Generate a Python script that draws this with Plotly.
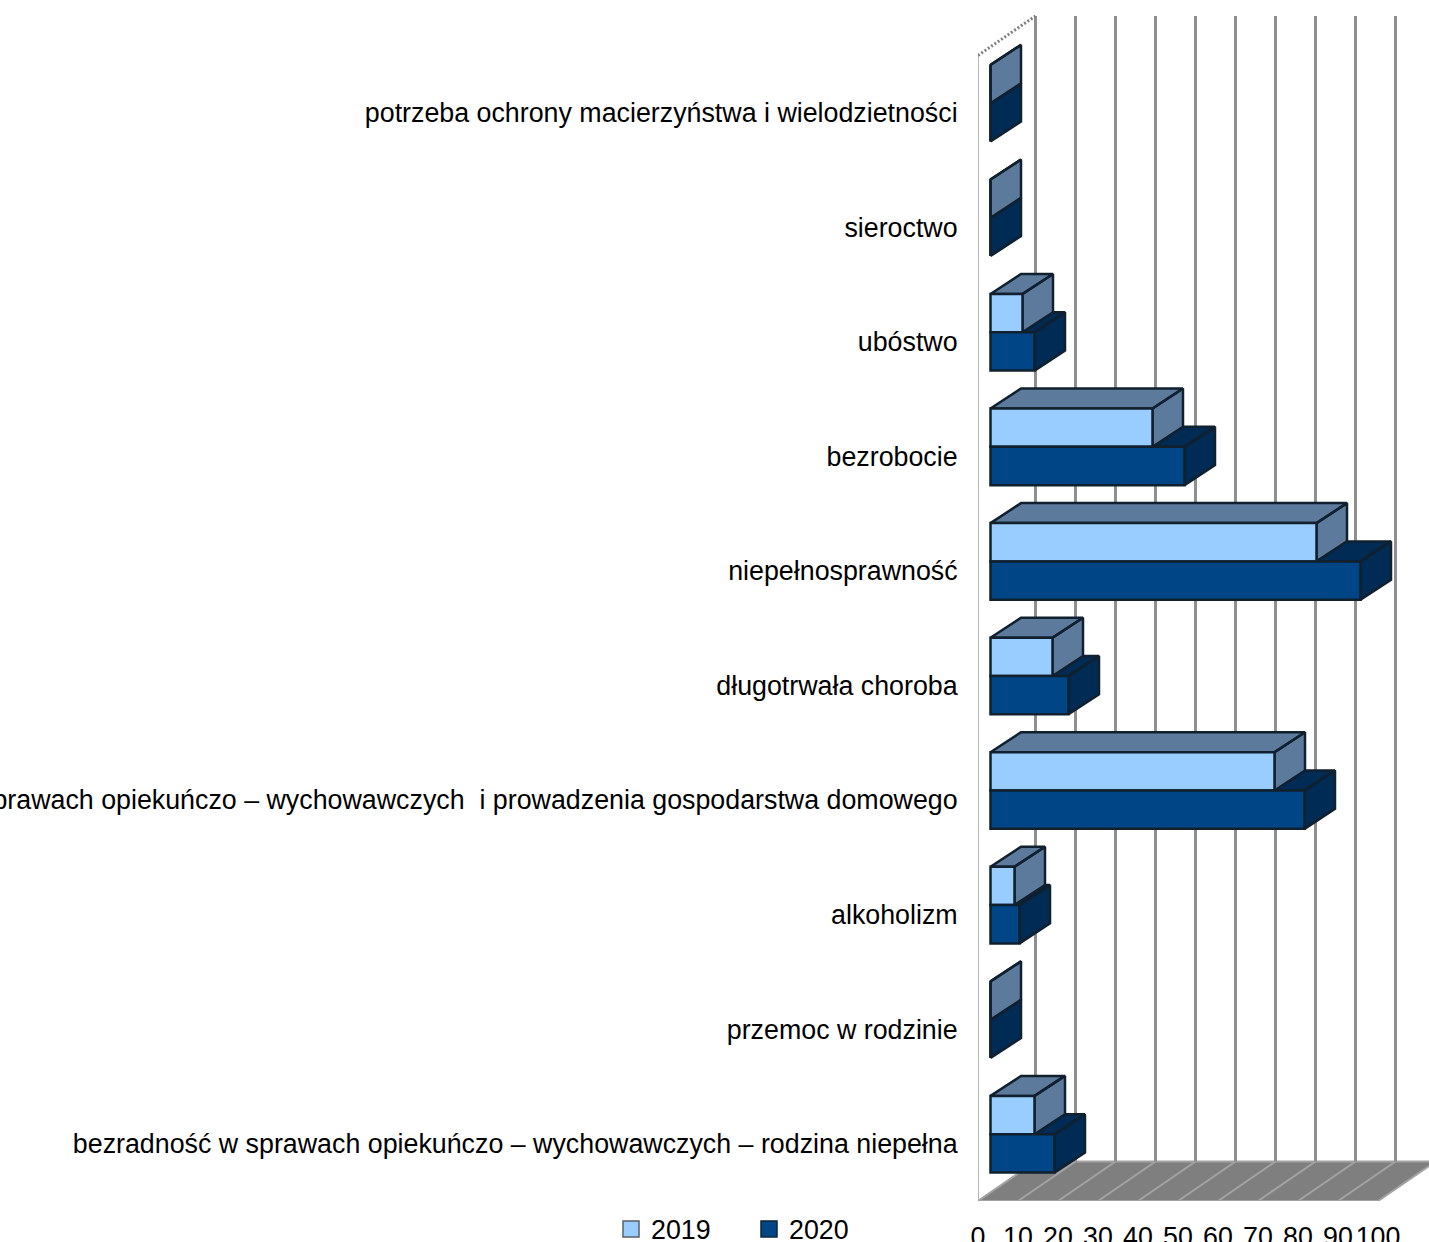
import plotly.graph_objects as go

categories = [
    "bezradność w sprawach opiekuńczo – wychowawczych – rodzina niepełna",
    "przemoc w rodzinie",
    "alkoholizm",
    "bezradność w sprawach opiekuńczo – wychowawczych\u00a0\u00a0i prowadzenia gospodarstwa domowego",
    "długotrwała choroba",
    "niepełnosprawność",
    "bezrobocie",
    "ubóstwo",
    "sieroctwo",
    "potrzeba ochrony macierzyństwa i wielodzietności",
]
values_2019 = [11, 0, 6, 71, 15.5, 81.5, 40.5, 8, 0, 0]
values_2020 = [16, 0, 7.25, 78.5, 19.5, 92.5, 48.5, 11, 0, 0]
x_ticks = [0, 10, 20, 30, 40, 50, 60, 70, 80, 90, 100]

W, H = 1429, 1242
LEFT, BOTTOM = 978, 41
PX_X = 4.0        # pixels per value unit
PX_Y = 114.56     # pixels per category
plot_h = H - BOTTOM
y_lo = -0.5
y_hi = y_lo + plot_h / PX_Y
x_hi = (W - LEFT) / PX_X

# depth of the pseudo-3D box
BOX_DX, BOX_DY = 57.5 / PX_X, 39.5 / PX_Y
# placement of the bars inside the box
BAR_X0 = 12.5 / PX_X
BAR_SHIFT = 9.5 / PX_Y
BAR_H = 38.3 / PX_Y
BAR_DX, BAR_DY = 30.5 / PX_X, 20 / PX_Y

EDGE = "#10202e"
GRID = "#8f8f8f"
FONT = dict(family="Liberation Sans", size=26.8, color="#000000")


def prisms(values, pos_lo):
    xs, ys = [], []
    for i, v in enumerate(values):
        y0 = i + pos_lo
        y1 = y0 + BAR_H
        x0 = BAR_X0
        x1 = BAR_X0 + v
        # top face
        xs += [x0, x0 + BAR_DX, x1 + BAR_DX, x1, x0, None]
        ys += [y1, y1 + BAR_DY, y1 + BAR_DY, y1, y1, None]
        # side face
        xs += [x1, x1 + BAR_DX, x1 + BAR_DX, x1, x1, None]
        ys += [y0, y0 + BAR_DY, y1 + BAR_DY, y1, y0, None]
    return xs, ys


fig = go.Figure()

# floor
fig.add_trace(go.Scatter(
    x=[0, x_ticks[-1], x_ticks[-1] + BOX_DX, BOX_DX, 0],
    y=[y_lo, y_lo, y_lo + BOX_DY, y_lo + BOX_DY, y_lo],
    mode="lines", fill="toself", fillcolor="#7f7f7f",
    line=dict(color="#7f7f7f", width=1), hoverinfo="skip", showlegend=False,
    cliponaxis=False, zorder=0))

floor_x, floor_y = [], []
for t in x_ticks:
    floor_x += [t, t + BOX_DX, None]
    floor_y += [y_lo, y_lo + BOX_DY, None]
floor_x += [0, x_ticks[-1], None, BOX_DX, x_ticks[-1] + BOX_DX]
floor_y += [y_lo, y_lo, None, y_lo + BOX_DY, y_lo + BOX_DY]
fig.add_trace(go.Scatter(
    x=floor_x, y=floor_y, mode="lines", line=dict(color="#a3a3a3", width=2),
    hoverinfo="skip", showlegend=False, cliponaxis=False, zorder=0))

# back wall grid
grid_x, grid_y = [], []
for t in x_ticks:
    grid_x += [t + BOX_DX, t + BOX_DX, None]
    grid_y += [y_lo + BOX_DY, 9.5 + BOX_DY, None]
fig.add_trace(go.Scatter(
    x=grid_x, y=grid_y, mode="lines", line=dict(color=GRID, width=3),
    hoverinfo="skip", showlegend=False, cliponaxis=False, zorder=0))

# side wall
fig.add_trace(go.Scatter(
    x=[0, 0], y=[y_lo, 9.5], mode="lines", line=dict(color="#a0a0a0", width=1.5),
    hoverinfo="skip", showlegend=False, cliponaxis=False, zorder=0))
fig.add_trace(go.Scatter(
    x=[0, BOX_DX], y=[9.5, 9.5 + BOX_DY], mode="lines",
    line=dict(color="#808080", width=3, dash="2px,2px"),
    hoverinfo="skip", showlegend=False, cliponaxis=False, zorder=0))

# top and side faces
positions = list(range(len(categories)))
lo_2020 = BAR_SHIFT - BAR_H
lo_2019 = BAR_SHIFT
px, py = prisms(values_2020, lo_2020)
fig.add_trace(go.Scatter(
    x=px, y=py, mode="lines", fill="toself", fillcolor="#002b54",
    line=dict(color=EDGE, width=2.5), hoverinfo="skip", showlegend=False,
    cliponaxis=False, zorder=1))
px, py = prisms(values_2019, lo_2019)
fig.add_trace(go.Scatter(
    x=px, y=py, mode="lines", fill="toself", fillcolor="#5c7a9c",
    line=dict(color=EDGE, width=2.5), hoverinfo="skip", showlegend=False,
    cliponaxis=False, zorder=1))

# front faces
fig.add_trace(go.Bar(
    y=positions, x=values_2019, base=BAR_X0, orientation="h", name="2019",
    width=BAR_H, offset=lo_2019, marker=dict(color="#99ccff", line=dict(color=EDGE, width=2.5)),
    showlegend=False, zorder=2))
fig.add_trace(go.Bar(
    y=positions, x=values_2020, base=BAR_X0, orientation="h", name="2020",
    width=BAR_H, offset=lo_2020, marker=dict(color="#004586", line=dict(color=EDGE, width=2.5)),
    showlegend=False, zorder=2))

# legend entries
for name, colour, line_colour in [("2019", "#99ccff", "#5a5f66"), ("2020", "#004586", "#10253a")]:
    fig.add_trace(go.Scatter(
        x=[None], y=[None], mode="markers", name=name,
        marker=dict(symbol="square", size=16, color=colour, line=dict(color=line_colour, width=1.5))))

fig.update_layout(
    width=W, height=H,
    margin=dict(l=LEFT, r=0, t=0, b=BOTTOM, autoexpand=False),
    paper_bgcolor="white", plot_bgcolor="white",
    barmode="overlay", font=FONT,
    xaxis=dict(range=[0, x_hi], tickmode="array", tickvals=x_ticks, tickangle=0,
               showgrid=False, zeroline=False, showline=False,
               ticks="outside", ticklen=12, tickcolor="rgba(0,0,0,0)", tickfont=FONT),
    yaxis=dict(range=[y_lo, y_hi], tickmode="array", tickvals=positions, ticktext=categories,
               showgrid=False, zeroline=False, showline=False,
               ticks="outside", ticklen=14, tickcolor="rgba(0,0,0,0)", tickfont=FONT),
    legend=dict(orientation="h", x=(611 - LEFT) / (W - LEFT), xanchor="left",
                y=(plot_h - 1229) / plot_h, yanchor="middle",
                bgcolor="rgba(0,0,0,0)", font=FONT,
                entrywidth=93, entrywidthmode="pixels", itemsizing="trace"),
)

fig.write_html("out.html", config=dict(displayModeBar=False),
               post_script="document.body.style.margin='0';")
